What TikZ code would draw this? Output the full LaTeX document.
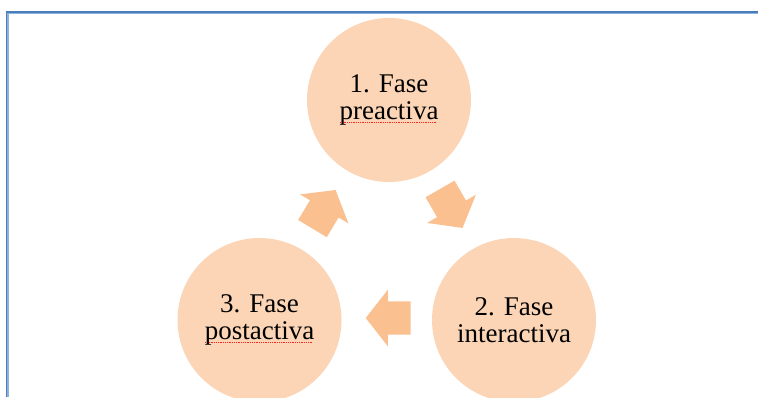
\documentclass[tikz,border=0pt]{standalone}
\usepackage{fontspec}
\setmainfont{Liberation Serif}
\usepackage{xcolor}
\usepackage{tikz}
\usetikzlibrary{calc, shapes, shapes.arrows, positioning}
\definecolor{circfill}{HTML}{FBD5B5}
\definecolor{arrowfill}{HTML}{FAC090}
\definecolor{framedark}{HTML}{4A7EBB}
\definecolor{framelight}{HTML}{8DB0DD}
\definecolor{spellred}{HTML}{FF2020}
\tikzset{
    phasenode/.style = {circle, fill=circfill, draw=none, minimum size=164pt, inner sep=0pt,
      node distance=0em, font=\fontsize{27}{27.5}\selectfont},
    arrownode/.style = {single arrow, fill=arrowfill, draw=none, minimum height=45pt,
      inner xsep=0pt, inner ysep=16.5pt, single arrow head extend=11.5pt, single arrow tip angle=104},
    framedarkline/.style = {framedark, line width=1.2pt},
    framelightline/.style = {framelight, line width=1.8pt},
    every text node part/.style={align=center}
}
% red dotted mark under a word
\newcommand{\spell}[1]{\setbox0=\hbox{#1}\rlap{\color{spellred}\raisebox{-3pt}{\leaders\hbox to 1.8pt{\hss\rule{1pt}{0.8pt}\hss}\hskip\wd0}}#1}

\begin{document}
\begin{tikzpicture}[x=1pt, y=1pt]
    \useasboundingbox (0,0) rectangle (758,397);

    \draw [framelightline] (7.9,0) -- (7.9,383.4) -- (758,383.4);
    \draw [framedarkline] (6.4,0) -- (6.4,384.9) -- (758,384.9);

    \node [name=pre, phasenode] at (389,297) {1. Fase\\\spell{preactiva}};
    \node [name=inter, phasenode, below of = pre, xshift=125pt, yshift=-220pt] {2. Fase\\interactiva};
    \node [name=post, phasenode, below of = pre, xshift=-129.5pt, yshift=-220pt] {3. Fase\\\spell{postactiva}};

    \node [name=a1, arrownode, rotate=-60] at ($(pre)!0.5!(inter)+(-3.5,7.2)$) {};
    \node [name=a2, arrownode, rotate=180] at ($(inter)!0.5!(post)+(8,2)$) {};
    \node [name=a3, arrownode, rotate=59] at ($(post)!0.5!(pre)+(-3.6,-4.9)$) {};
\end{tikzpicture}
\end{document}
